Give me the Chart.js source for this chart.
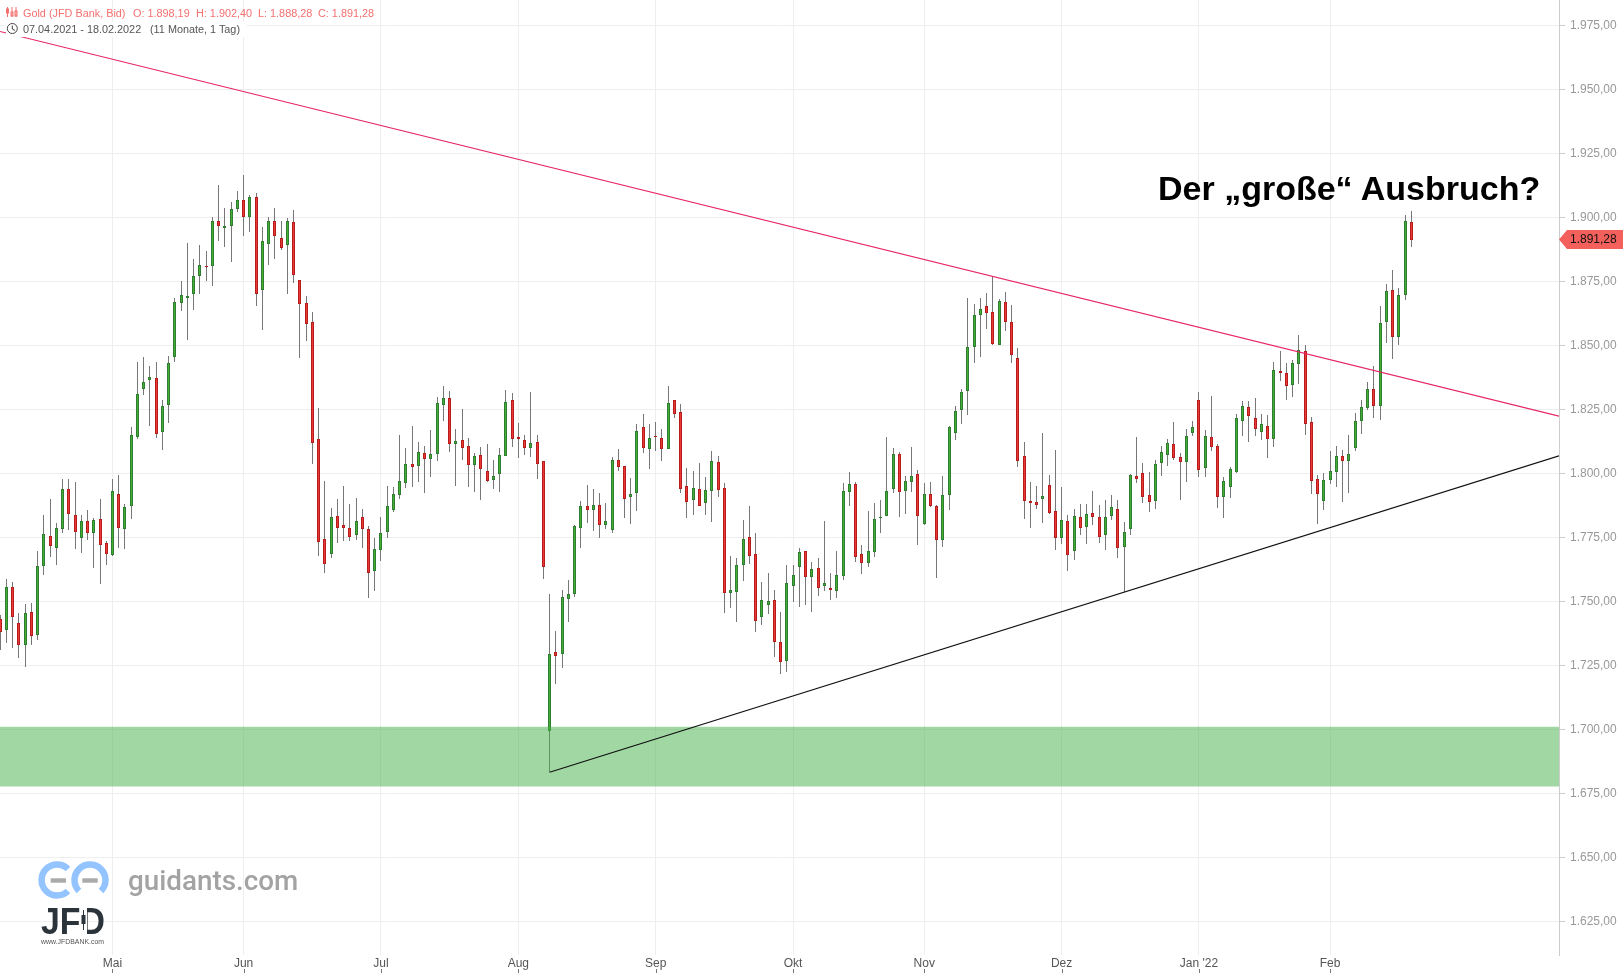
<!DOCTYPE html>
<html lang="de">
<head>
<meta charset="utf-8">
<title>Gold (JFD Bank, Bid)</title>
<script src="https://cdn.jsdelivr.net/npm/chart.js@4"></script>
<style>
html,body{margin:0;padding:0;background:#fff;width:1623px;height:973px;overflow:hidden}
#wrap{position:relative;width:1623px;height:973px;font-family:"Liberation Sans",Arial,sans-serif}
canvas{position:absolute;left:0;top:0}
.t{position:absolute;white-space:pre;line-height:14px;font-size:10.85px}
.r{color:#f46f6f}
.g{color:#555}
#bg2{position:absolute;left:6px;top:22px;width:241px;height:15px;background:#fff}
#title{position:absolute;left:1158px;top:168px;font-size:34px;line-height:40px;font-weight:700;color:#000;white-space:pre}
#guid{position:absolute;left:128px;top:864px;font-family:Roboto,sans-serif;font-weight:500;font-size:27.8px;line-height:34px;color:#a3a3a3;white-space:pre}
svg{position:absolute;left:0;top:0}
</style>
</head>
<body>
<div id="wrap">
<canvas id="c" width="1623" height="973"></canvas>
<div id="bg2"></div>
<div class="t r" style="left:23px;top:6px">Gold (JFD Bank, Bid)</div>
<div class="t r" style="left:133px;top:6px">O: 1.898,19</div>
<div class="t r" style="left:196px;top:6px">H: 1.902,40</div>
<div class="t r" style="left:258px;top:6px">L: 1.888,28</div>
<div class="t r" style="left:318px;top:6px">C: 1.891,28</div>
<div class="t g" style="left:23px;top:22px">07.04.2021 - 18.02.2022</div>
<div class="t g" style="left:150px;top:22px">(11 Monate, 1 Tag)</div>
<div id="title">Der „große“ Ausbruch?</div>
<div id="guid">guidants.com</div>
<svg width="1623" height="973" xmlns="http://www.w3.org/2000/svg">
  <g stroke="#f46f6f" fill="none" stroke-width="1">
    <path d="M7.5 7V17M12 7V17M16 7V17"/>
    <rect x="6.5" y="9" width="2" height="4"/><rect x="11" y="12" width="2" height="4"/><rect x="15" y="11" width="2" height="5"/>
  </g>
  <g stroke="#444" fill="none" stroke-width="1">
    <circle cx="12.3" cy="28.5" r="5"/><path d="M12.3 25.5V29L15 30.5"/>
  </g>
  <g fill="none" stroke="#93c4ff" stroke-width="6.5">
    <path d="M68 869A15.5 15.5 0 1 0 68 891"/>
    <path d="M79 891A15.5 15.5 0 1 1 101 891"/>
  </g>
  <rect x="50.7" y="878.3" width="15.3" height="4.4" fill="#aaa"/>
  <rect x="82.3" y="878.3" width="15.4" height="4.4" fill="#aaa"/>
  <text x="41" y="933.5" font-family="Liberation Sans" font-weight="700" font-size="37" fill="#2b333b" textLength="64" lengthAdjust="spacingAndGlyphs">JFD</text>
  <rect x="81" y="904" width="6" height="31" fill="#fff"/>
  <path d="M83.5 910V930" stroke="#2b333b" stroke-width="1"/>
  <rect x="81.5" y="915" width="4" height="9" fill="#2b333b"/>
  <text x="41" y="943.5" font-family="Liberation Sans" font-size="7.5" fill="#555" textLength="63" lengthAdjust="spacingAndGlyphs">www.JFDBANK.com</text>
</svg>
</div>
<script>
const opens = [
1743.1,1738.6,1755.6,1741.5,1733.0,1745.9,1736.8,1763.8,1775.5,1770.8,
1778.3,1793.9,1783.7,1774.8,1781.4,1776.7,1782.1,1772.9,1768.0,1791.8,
1778.3,1787.2,1814.1,1832.8,1836.4,1837.1,1816.0,1826.7,1845.3,1866.7,
1868.6,1870.2,1877.0,1881.0,1880.8,1898.7,1896.0,1896.5,1903.4,1906.9,
1900.0,1908.1,1871.4,1889.7,1898.7,1891.8,1889.0,1898.0,1875.4,1866.4,
1859.0,1813.4,1774.4,1768.3,1783.3,1779.7,1778.6,1775.8,1783.0,1778.3,
1761.9,1770.1,1777.0,1785.6,1791.5,1796.2,1803.7,1802.8,1807.8,1805.7,
1807.7,1826.8,1829.3,1811.6,1812.9,1810.5,1803.4,1807.0,1800.8,1797.5,
1799.9,1806.9,1828.5,1814.1,1812.9,1810.0,1812.1,1804.7,1699.5,1730.1,
1729.2,1751.0,1753.0,1778.8,1787.1,1785.8,1787.5,1779.9,1778.0,1805.1,
1802.7,1790.9,1792.1,1818.0,1809.6,1814.5,1813.7,1809.3,1828.5,1823.8,
1794.9,1789.7,1793.8,1788.2,1793.2,1804.3,1794.1,1753.4,1753.8,1764.3,
1775.0,1768.4,1744.0,1748.7,1750.4,1734.0,1726.8,1756.1,1763.5,1769.5,
1759.6,1762.9,1755.9,1755.2,1753.9,1759.8,1792.6,1795.8,1768.5,1764.8,
1769.1,1782.4,1783.2,1793.7,1807.5,1793.0,1796.6,1799.7,1780.3,1791.9,
1787.2,1773.8,1791.4,1815.6,1824.6,1832.0,1849.2,1861.7,1865.4,1863.0,
1850.0,1866.9,1859.1,1845.0,1806.8,1789.2,1788.8,1789.8,1795.4,1785.3,
1774.6,1781.4,1769.5,1782.9,1778.9,1784.5,1782.9,1775.8,1783.2,1786.1,
1771.1,1778.1,1799.0,1800.1,1791.5,1789.1,1803.9,1807.0,1811.5,1806.4,
1804.3,1815.6,1828.6,1802.0,1814.2,1810.7,1790.9,1794.8,1800.5,1820.6,
1825.8,1821.5,1816.3,1818.4,1813.5,1839.8,1839.1,1834.6,1842.8,1847.6,
1819.9,1797.7,1789.3,1797.5,1800.3,1806.6,1804.9,1810.0,1820.6,1825.6,
1832.8,1826.4,1859.2,1871.5,1853.4,1869.8,1898.19];
const highs = [
1744.5,1758.8,1757.5,1745.4,1749.0,1749.4,1769.7,1783.7,1790.1,1780.5,
1797.8,1797.8,1796.4,1783.7,1785.8,1782.6,1789.9,1773.7,1797.8,1799.5,
1788.0,1818.1,1843.4,1845.5,1841.8,1843.4,1828.6,1845.8,1868.3,1875.1,
1889.9,1883.6,1889.3,1886.9,1900.0,1912.5,1903.6,1906.0,1910.4,1916.5,
1908.8,1909.4,1896.3,1900.0,1903.6,1898.7,1899.6,1902.8,1875.4,1869.1,
1863.0,1825.6,1797.1,1786.5,1789.9,1795.0,1788.0,1790.3,1786.1,1779.3,
1774.6,1783.0,1795.0,1794.6,1815.0,1809.8,1818.5,1812.2,1810.5,1816.9,
1829.8,1834.0,1832.0,1817.3,1825.0,1813.7,1807.9,1810.2,1811.5,1805.1,
1809.9,1832.4,1831.3,1819.5,1815.0,1831.6,1815.0,1804.7,1752.7,1738.4,
1754.4,1758.3,1779.8,1789.2,1795.4,1793.9,1792.3,1788.4,1806.3,1809.5,
1802.7,1798.2,1819.3,1823.2,1819.3,1820.1,1817.3,1834.1,1828.5,1827.1,
1802.1,1800.9,1804.0,1798.6,1808.7,1806.8,1796.1,1767.7,1766.8,1781.8,
1787.2,1776.7,1757.4,1761.1,1754.4,1745.8,1764.2,1764.2,1770.7,1769.5,
1765.4,1766.8,1781.4,1761.2,1769.7,1796.2,1800.5,1796.6,1772.1,1785.4,
1788.5,1789.6,1814.0,1809.9,1808.3,1799.0,1810.4,1801.4,1796.0,1796.6,
1787.6,1799.0,1818.5,1826.4,1833.0,1868.6,1866.3,1868.6,1870.6,1877.0,
1868.1,1871.0,1865.9,1849.0,1812.4,1796.6,1795.0,1815.9,1799.4,1808.9,
1794.7,1783.5,1786.2,1788.1,1788.1,1793.2,1787.6,1789.6,1791.5,1789.7,
1781.0,1799.9,1814.2,1804.0,1800.5,1805.2,1810.7,1813.5,1820.1,1807.9,
1817.3,1820.4,1831.9,1816.9,1830.0,1811.5,1798.6,1802.5,1823.2,1828.1,
1828.1,1829.4,1823.2,1822.8,1843.5,1847.8,1843.1,1844.3,1854.0,1850.1,
1822.0,1799.3,1800.1,1808.7,1810.7,1809.1,1815.0,1823.4,1828.5,1835.7,
1841.9,1865.4,1874.0,1879.4,1872.3,1900.9,1902.4];
const lows = [
1731.1,1733.7,1731.8,1727.8,1724.5,1733.0,1734.7,1760.2,1767.1,1764.0,
1776.5,1777.8,1770.3,1769.0,1774.1,1762.8,1756.7,1764.3,1767.7,1770.9,
1770.6,1782.3,1813.3,1830.5,1818.5,1813.6,1809.1,1819.7,1843.5,1863.4,
1852.2,1863.9,1870.2,1875.2,1873.0,1890.7,1888.5,1882.4,1902.0,1892.5,
1894.4,1865.5,1856.1,1881.3,1883.8,1887.3,1870.0,1874.4,1844.9,1851.7,
1803.8,1767.5,1761.2,1766.8,1772.7,1773.7,1773.4,1774.1,1770.9,1751.1,
1753.9,1765.9,1774.6,1784.7,1790.1,1794.1,1794.5,1796.7,1792.1,1798.7,
1804.6,1820.6,1808.3,1795.2,1805.2,1794.8,1792.7,1789.7,1796.6,1793.9,
1792.7,1806.9,1810.3,1806.0,1807.2,1806.4,1797.8,1758.7,1683.2,1717.8,
1724.1,1741.9,1751.7,1770.8,1780.6,1777.5,1774.8,1778.3,1776.7,1800.9,
1782.6,1780.2,1785.3,1807.9,1801.7,1808.7,1804.8,1809.3,1821.6,1792.3,
1782.6,1783.7,1787.2,1783.7,1781.0,1790.8,1745.4,1747.4,1741.9,1757.9,
1764.6,1738.0,1740.8,1745.1,1728.3,1721.6,1722.4,1749.7,1747.8,1748.6,
1745.8,1752.1,1753.9,1750.4,1751.2,1758.2,1787.1,1765.2,1760.6,1763.3,
1767.2,1776.8,1783.2,1792.4,1782.8,1783.9,1792.6,1772.1,1779.7,1786.7,
1759.2,1771.1,1785.5,1812.9,1819.4,1822.6,1843.2,1845.6,1856.5,1850.0,
1850.0,1855.5,1843.2,1802.3,1782.3,1778.8,1786.2,1780.7,1784.2,1770.2,
1772.5,1762.0,1766.3,1776.0,1772.5,1779.9,1772.9,1770.2,1781.9,1766.7,
1753.5,1775.7,1796.0,1788.5,1785.0,1786.2,1799.1,1803.0,1805.2,1789.7,
1796.4,1814.7,1798.7,1798.7,1808.5,1786.5,1782.7,1790.4,1800.1,1814.6,
1812.2,1814.6,1813.0,1806.0,1810.3,1836.1,1828.6,1829.8,1834.9,1815.0,
1791.9,1780.2,1785.7,1795.8,1794.7,1788.8,1792.3,1808.6,1815.4,1824.9,
1821.6,1820.8,1850.9,1844.7,1850.1,1867.7,1888.28];
const closes = [
1737.9,1755.6,1743.9,1733.0,1745.5,1736.5,1763.8,1776.4,1771.7,1778.6,
1793.9,1784.0,1777.1,1781.4,1776.7,1781.7,1772.0,1768.5,1793.1,1778.6,
1786.8,1815.0,1830.8,1835.5,1837.6,1815.4,1826.3,1843.0,1866.9,1869.5,
1869.1,1877.0,1881.2,1880.6,1898.7,1896.5,1896.5,1903.4,1906.6,1900.3,
1908.1,1870.2,1890.9,1898.7,1892.5,1888.1,1898.4,1877.3,1866.0,1858.5,
1811.7,1773.2,1764.5,1783.0,1778.6,1778.8,1775.1,1781.4,1778.3,1761.0,
1770.4,1776.7,1787.3,1791.8,1797.1,1803.7,1802.5,1808.4,1805.7,1807.4,
1827.3,1829.3,1811.6,1812.5,1810.0,1803.4,1806.6,1801.8,1797.1,1798.8,
1807.0,1827.7,1813.5,1813.2,1810.0,1811.7,1803.8,1763.5,1729.3,1728.8,
1751.6,1752.7,1779.3,1787.1,1785.8,1787.5,1779.6,1781.3,1805.1,1802.6,
1790.1,1791.8,1816.4,1810.0,1813.7,1814.0,1809.3,1827.3,1823.3,1794.0,
1788.9,1794.1,1787.4,1793.4,1804.7,1793.6,1753.4,1754.3,1764.1,1774.2,
1767.8,1742.1,1750.4,1750.0,1733.9,1726.4,1757.0,1760.2,1769.1,1759.6,
1762.5,1755.0,1757.2,1754.3,1760.3,1793.1,1795.8,1767.3,1764.8,1769.7,
1782.2,1783.1,1793.1,1807.5,1792.6,1797.0,1799.0,1783.2,1791.9,1787.1,
1773.8,1791.5,1818.1,1824.4,1831.8,1849.3,1861.8,1864.2,1862.5,1850.3,
1867.3,1859.0,1846.1,1804.7,1789.1,1788.3,1787.5,1791.1,1784.4,1774.6,
1781.8,1768.0,1783.3,1778.5,1784.1,1782.8,1775.0,1782.9,1786.8,1770.7,
1777.1,1799.4,1797.7,1790.6,1788.7,1803.6,1808.3,1811.8,1805.9,1804.3,
1814.6,1818.1,1801.2,1814.6,1810.2,1790.9,1796.9,1801.6,1821.5,1826.2,
1822.5,1817.4,1819.1,1813.5,1840.2,1839.3,1834.2,1843.0,1848.0,1819.4,
1796.9,1791.7,1797.3,1800.8,1806.6,1804.6,1807.4,1820.3,1825.8,1832.8,
1826.4,1858.6,1871.1,1853.4,1869.5,1898.4,1891.28];

const monthLabels = ["Mai","Jun","Jul","Aug","Sep","Okt","Nov","Dez","Jan '22","Feb"];
const monthIndexes = [18,39,61,83,105,127,148,170,192,213];
const priceTicks = [1975,1950,1925,1900,1875,1850,1825,1800,1775,1750,1725,1700,1675,1650,1625];
const zoneTopPrice = 1701.0;
const zoneBottomPrice = 1677.6;
const downTrendStart = 1972.6, downTrendEnd = 1822.3;
const upTrendStart = 1683.2, upTrendEnd = 1806.8, upTrendStartIndex = 88;
const xMin = -0.016, xMax = 249.66;
const yMin = 1611.8, yMax = 1984.88;

const fmt = v => {
  const s = v.toFixed(2).replace('.', ',');
  return s.replace(/^(\d)(\d{3})/, '$1.$2');
};
const isUp = i => closes[i] >= opens[i];

const snapBars = {
  id: 'snapBars',
  beforeDatasetsDraw(chart) {
    chart.getSortedVisibleDatasetMetas().forEach(m => {
      if (m.type !== 'bar') return;
      m.data.forEach(el => {
        el.x = Math.floor(el.x) + 0.5;
        el.y = Math.round(el.y);
        el.base = Math.round(el.base);
      });
    });
  }
};
const axisExtras = {
  id: 'axisExtras',
  afterDraw(chart) {
    const { ctx, scales: { x, y } } = chart;
    ctx.save();
    ctx.strokeStyle = '#777';
    ctx.lineWidth = 1;
    monthIndexes.forEach(i => {
      const px = Math.round(x.getPixelForValue(i)) + 0.5;
      ctx.beginPath(); ctx.moveTo(px, 969); ctx.lineTo(px, 973); ctx.stroke();
    });
    const last = closes[closes.length - 1];
    const py = y.getPixelForValue(last);
    const r = chart.chartArea.right;
    ctx.fillStyle = '#f4605c';
    ctx.beginPath();
    ctx.moveTo(r, py);
    ctx.lineTo(r + 8, py - 9.5);
    ctx.lineTo(1623, py - 9.5);
    ctx.lineTo(1623, py + 9.5);
    ctx.lineTo(r + 8, py + 9.5);
    ctx.closePath();
    ctx.fill();
    ctx.fillStyle = '#111';
    ctx.font = '12px "Liberation Sans", Arial, sans-serif';
    ctx.textBaseline = 'middle';
    ctx.textAlign = 'left';
    ctx.fillText(fmt(last), 1570, py + 0.5);
    ctx.restore();
  }
};

const idx = opens.map((_, i) => i);
new Chart(document.getElementById('c'), {
  type: 'bar',
  plugins: [snapBars, axisExtras],
  data: {
    datasets: [
      { type: 'line', label: 'Abwärtstrend', order: 1,
        data: [{ x: xMin, y: downTrendStart }, { x: xMax, y: downTrendEnd }],
        borderColor: '#e6266a', borderWidth: 1.1, pointRadius: 0, tension: 0, fill: false },
      { type: 'line', label: 'Aufwärtstrend', order: 2,
        data: [{ x: upTrendStartIndex, y: upTrendStart }, { x: xMax, y: upTrendEnd }],
        borderColor: '#111', borderWidth: 1.2, pointRadius: 0, tension: 0, fill: false },
      { type: 'line', label: 'Zone', order: 3,
        data: [{ x: xMin, y: zoneTopPrice }, { x: xMax, y: zoneTopPrice }],
        borderWidth: 0, pointRadius: 0, fill: '+1', backgroundColor: 'rgba(67,176,71,0.5)' },
      { type: 'line', label: 'ZoneUnten', order: 3,
        data: [{ x: xMin, y: zoneBottomPrice }, { x: xMax, y: zoneBottomPrice }],
        borderWidth: 0, pointRadius: 0, fill: false },
      { label: 'Kerzen', order: 4, grouped: false, barThickness: 3, inflateAmount: 0,
        data: idx.map(i => ({ x: i, y: [opens[i], closes[i]] })),
        backgroundColor: c => isUp(c.dataIndex) ? '#45b030' : '#ea3a36',
        borderColor: c => isUp(c.dataIndex) ? '#2e7d32' : '#b71c1c',
        borderWidth: 1, borderSkipped: false },
      { label: 'Dochte', order: 5, grouped: false, barThickness: 1, inflateAmount: 0,
        data: idx.map(i => ({ x: i, y: [lows[i], highs[i]] })),
        backgroundColor: '#777', borderWidth: 0 }
    ]
  },
  options: {
    responsive: false,
    animation: false,
    devicePixelRatio: 1,
    layout: { padding: 0 },
    plugins: { legend: { display: false }, tooltip: { enabled: false } },
    scales: {
      x: {
        type: 'linear', min: xMin, max: xMax, offset: false,
        afterBuildTicks: s => { s.ticks = monthIndexes.map(v => ({ value: v })); },
        afterFit: s => { s.height = 18; s.paddingLeft = 0; s.paddingRight = 0; },
        grid: { color: '#eeeeee', lineWidth: 1, drawTicks: false, offset: false },
        border: { display: false },
        ticks: {
          autoSkip: false, maxRotation: 0, padding: 1, color: '#555',
          font: { family: '"Liberation Sans", Arial, sans-serif', size: 12 },
          callback: v => monthLabels[monthIndexes.indexOf(v)] ?? ''
        }
      },
      y: {
        type: 'linear', position: 'right', min: yMin, max: yMax,
        afterBuildTicks: s => { s.ticks = priceTicks.map(v => ({ value: v })); },
        afterFit: s => { s.width = 64; s.paddingTop = 0; s.paddingBottom = 0; },
        grid: { color: '#eeeeee', lineWidth: 1, tickLength: 6, tickColor: '#ccc' },
        border: { display: true, color: '#cccccc' },
        ticks: {
          padding: 5, color: '#999',
          font: { family: '"Liberation Sans", Arial, sans-serif', size: 12 },
          callback: v => fmt(v)
        }
      }
    }
  }
});
</script>
</body>
</html>
